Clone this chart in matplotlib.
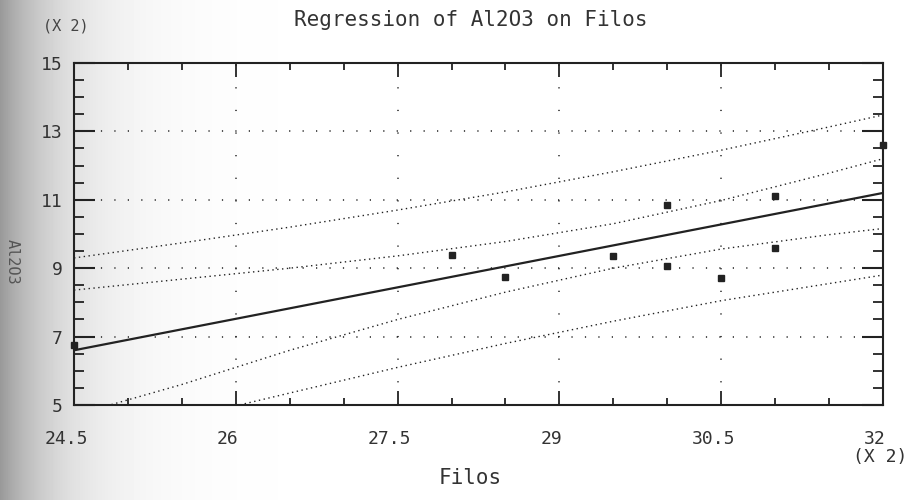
import matplotlib.pyplot as plt
import numpy as np
from matplotlib.transforms import ScaledTranslation

plt.rcParams['font.family'] = ['DejaVu Sans Mono', 'DejaVu Sans']

# observed samples (Filos, Al2O3), both axes scaled x2
filos = [24.5, 28.0, 28.5, 29.5, 30.0, 30.0, 30.5, 31.0, 31.0, 32.0]
al2o3 = [6.75, 9.4, 8.75, 9.35, 10.85, 9.05, 8.7, 11.1, 9.6, 12.6]

# fitted line end points
fit_x = [24.5, 32.0]
fit_y = [6.6, 11.2]

# confidence / prediction limits
band_x = [24.5, 25.5, 26.5, 27.5, 28.5, 29.5, 30.5, 31.5, 32.0]
conf_upper = [8.36, 8.68, 9.0, 9.36, 9.78, 10.3, 10.98, 11.78, 12.2]
conf_lower = [4.7, 5.6, 6.6, 7.5, 8.3, 9.0, 9.56, 9.98, 10.16]
pred_upper = [9.3, 9.74, 10.2, 10.7, 11.23, 11.82, 12.45, 13.13, 13.48]
pred_lower = [3.9, 4.6, 5.35, 6.1, 6.8, 7.45, 8.05, 8.55, 8.8]

x_ticks = [24.5, 26, 27.5, 29, 30.5, 32]
x_labels = ['24.5', '26', '27.5', '29', '30.5', '32']
y_ticks = [5, 7, 9, 11, 13, 15]

ink = '#222222'

fig = plt.figure(figsize=(9.14, 5), dpi=100)

# scanned-paper shading on the left edge
bg = fig.add_axes([0, 0, 1, 1], zorder=-10)
cols = np.arange(914)
shade = 1 - 0.4 * np.exp(-cols / 60.0)
bg.imshow(np.tile(shade, (20, 1)), cmap='gray', vmin=0, vmax=1,
          aspect='auto', extent=[0, 1, 0, 1])
bg.axis('off')

ax = fig.add_axes([0.081, 0.19, 0.885, 0.684])
ax.patch.set_alpha(0)

band_style = dict(color=ink, lw=1.0, linestyle=(0, (1, 2.5)))
ax.plot(band_x, pred_upper, **band_style)
ax.plot(band_x, pred_lower, **band_style)
ax.plot(band_x, conf_upper, **band_style)
ax.plot(band_x, conf_lower, **band_style)
ax.plot(fit_x, fit_y, color=ink, lw=1.6)
ax.plot(filos, al2o3, 's', color=ink, ms=4.5, clip_on=False, zorder=5)

ax.set_xlim(24.5, 32)
ax.set_ylim(5, 15)
ax.set_xticks(x_ticks)
ax.set_xticklabels(x_labels)
ax.set_xticks(np.arange(24.5, 32.01, 0.5), minor=True)
ax.set_yticks(y_ticks)
ax.set_yticks(np.arange(5, 15.01, 0.5), minor=True)

ax.grid(True, which='major', axis='y', color=ink, lw=1.1, linestyle=(0, (0.8, 8)))
ax.grid(True, which='major', axis='x', color=ink, lw=1.1, linestyle=(0, (0.8, 14)))

ax.tick_params(axis='x', which='major', direction='in', length=10, width=1.3,
               top=True, bottom=True, pad=18, labelsize=13,
               color=ink, labelcolor='#333333')
ax.tick_params(axis='x', which='minor', direction='in', length=5, width=1.3,
               top=True, bottom=True, color=ink)
ax.tick_params(axis='y', which='major', direction='in', length=15, width=1.5,
               left=True, right=True, pad=8, labelsize=13,
               color=ink, labelcolor='#333333')
ax.tick_params(axis='y', which='minor', direction='in', length=7, width=1.3,
               left=True, right=True, color=ink)
for sp in ax.spines.values():
    sp.set_linewidth(1.5)
    sp.set_color(ink)

shift = ScaledTranslation(-8 / 100, 0, fig.dpi_scale_trans)
for lab in ax.get_xticklabels():
    lab.set_transform(lab.get_transform() + shift)

fig.text(0.515, 0.96, 'Regression of Al2O3 on Filos', ha='center', va='center',
         fontsize=15, color='#333333')
fig.text(0.072, 0.948, '(X 2)', ha='center', va='center', fontsize=11, color='#444444')
fig.text(0.963, 0.086, '(X 2)', ha='center', va='center', fontsize=13, color='#333333')
fig.text(0.514, 0.044, 'Filos', ha='center', va='center', fontsize=15, color='#333333')
fig.text(0.013, 0.476, 'Al2O3', ha='center', va='center', rotation=270,
         fontsize=11, color='#555555')

fig.savefig('out.png', dpi=100)
